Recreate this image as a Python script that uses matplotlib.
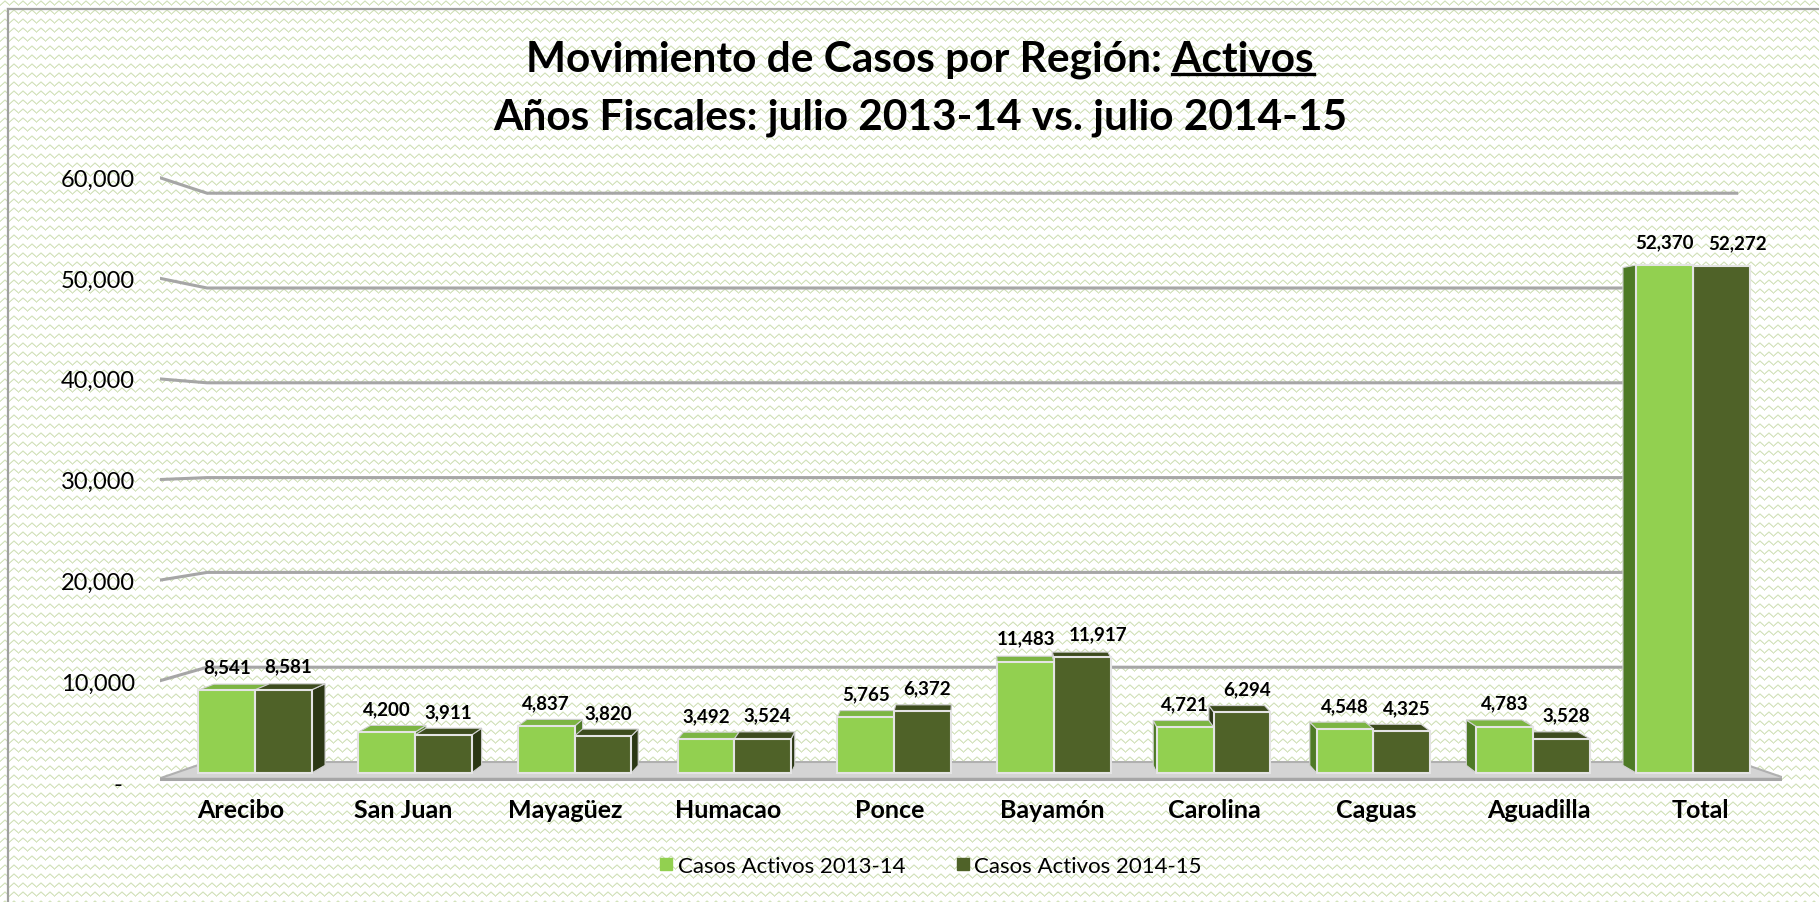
import numpy as np
import matplotlib
matplotlib.use("Agg")
import matplotlib.pyplot as plt
from matplotlib.lines import Line2D
from matplotlib.patches import Polygon

plt.rcParams['font.family'] = ['Lato', 'DejaVu Sans']

regions = ["Arecibo", "San Juan", "Mayagüez", "Humacao", "Ponce",
           "Bayamón", "Carolina", "Caguas", "Aguadilla", "Total"]
activos_2013_14 = [8541, 4200, 4837, 3492, 5765, 11483, 4721, 4548, 4783, 52370]
activos_2014_15 = [8581, 3911, 3820, 3524, 6372, 11917, 6294, 4325, 3528, 52272]
series_names = ["Casos Activos 2013-14", "Casos Activos 2014-15"]
y_ticks = [0, 10000, 20000, 30000, 40000, 50000, 60000]

light = {"front": "#92D050", "top": "#7CB543", "side": "#4E7A26"}
dark = {"front": "#4F6228", "top": "#3D4C1E", "side": "#2C3815"}

W, H = 1819, 903
fig = plt.figure(figsize=(W / 100, H / 100), dpi=100, facecolor="white")

# zigzag background texture
yy, xx = np.mgrid[0:H, 0:W]
tri = np.abs((xx % 9) / 9.0 * 2 - 1)
dist = np.abs((yy % 9) - (1.5 + 4.0 * tri))
a = np.clip(1.3 - dist, 0, 1)[..., None]
green = np.array([0.83, 0.89, 0.74])
tex = (1 - a) * np.ones(3) + a * green
fig.figimage(tex, 0, 0, zorder=-10)

# frame (only top and left visible)
fig.add_artist(Line2D([8 / W, 8 / W], [0, 1 - 10 / H], color="#A0A0A0", lw=1.6))
fig.add_artist(Line2D([8 / W, 1], [1 - 10 / H, 1 - 10 / H], color="#A0A0A0", lw=1.6))

# axes: value 0 at 774px from top, 0.0097 px per unit
Y0, Y1 = -1000, 62000
zero_px, px_per = 774, 0.0097
bot_px = zero_px + (0 - Y0) * px_per
top_px = zero_px - Y1 * px_per
ax = fig.add_axes([160 / W, (H - bot_px) / H, 1622 / W, (bot_px - top_px) / H])
ax.set_facecolor("none")
ax.set_xlim(-0.5, 9.5)
ax.set_ylim(Y0, Y1)
for s in ax.spines.values():
    s.set_visible(False)


def front(v):
    return -928 + 1.0392 * v


def back(v):
    return 1134 + 0.9773 * v


# floor
floor = Polygon([(-0.51, -600), (9.53, -600), (9.23, back(0)), (-0.21, back(0))],
                closed=True, facecolor="#D4D4D4", edgecolor="#B0B0B0", lw=1.5, zorder=1)
ax.add_patch(floor)
ax.plot([-0.51, 9.53], [-600, -600], color="#A6A6A6", lw=2.2, zorder=1.5)

# gridlines on back wall with slanted stubs
for v in y_ticks[1:]:
    ax.plot([-0.51, -0.21, 9.23], [front(v), back(v), back(v)],
            color="#A6A6A6", lw=2.2, zorder=1, solid_capstyle="butt")

ax.set_yticks([front(v) for v in y_ticks])
ax.set_yticklabels([f"{v:,}" if v else "-  " for v in y_ticks], fontsize=17)
ax.tick_params(axis="y", length=0, pad=18)

ax.set_xticks(range(len(regions)))
ax.set_xticklabels(regions, fontsize=18, fontweight="bold")
ax.tick_params(axis="x", length=0, pad=11)

# pseudo-3D bars
bw = 0.35
K = 0.02
vp_x = 4.52
eye = 39278


def draw_bar(xc, h, col, z):
    x0, x1 = xc - bw / 2, xc + bw / 2
    dy_top = K * (eye - h)
    dy_bot = K * eye
    edge = x1 if vp_x > x1 else x0
    dx = K * (vp_x - edge)
    side = Polygon([(edge, 0), (edge, h), (edge + dx, h + dy_top), (edge + dx, dy_bot)],
                   closed=True, facecolor=col["side"], edgecolor="#D0D0D0", lw=0.8, zorder=z)
    ax.add_patch(side)
    if dy_top > 0:
        top = Polygon([(x0, h), (x1, h), (x1 + K * (vp_x - x1), h + dy_top),
                       (x0 + K * (vp_x - x0), h + dy_top)],
                      closed=True, facecolor=col["top"], edgecolor="#D0D0D0", lw=0.8, zorder=z)
        ax.add_patch(top)
    ax.bar(xc, h, bw, color=col["front"], edgecolor="#E4E4E4", lw=1.5, zorder=z + 0.1)


label_pairs = []
for i in range(len(regions)):
    # front bars sit slightly nearer the viewer than the category labels
    pc = i * 0.985 + 0.086
    xl, xd = pc - bw / 2, pc + bw / 2
    if pc < vp_x:
        draw_bar(xl, activos_2013_14[i], light, 3)
        draw_bar(xd, activos_2014_15[i], dark, 4)
    else:
        draw_bar(xd, activos_2014_15[i], dark, 3)
        draw_bar(xl, activos_2013_14[i], light, 4)
    pair = []
    for xc, v in ((xl, activos_2013_14[i]), (xd, activos_2014_15[i])):
        pair.append(ax.annotate(f"{v:,}", (xc, v), xytext=(0, 17), textcoords="offset points",
                                ha="center", va="center", fontsize=13.5, fontweight="bold", zorder=6))
    label_pairs.append(pair)

# legend
handles = [Line2D([], [], marker="s", ls="none", ms=9, color=light["front"]),
           Line2D([], [], marker="s", ls="none", ms=9, color=dark["front"])]
fig.legend(handles, series_names, loc="center", bbox_to_anchor=(0.511, 36 / H), ncol=2,
           frameon=False, fontsize=16, handletextpad=0.1, columnspacing=2.2, handlelength=0.8)

# title with underlined "Activos"
line1 = "Movimiento de Casos por Región: Activos"
line2 = "Años Fiscales: julio 2013-14 vs. julio 2014-15"
t1 = fig.text(920 / W, 1 - 60 / H, line1, ha="center", va="center", fontsize=30.5, fontweight="bold")
fig.text(920 / W, 1 - 118 / H, line2, ha="center", va="center", fontsize=30.5, fontweight="bold")
fig.canvas.draw()
r = fig.canvas.get_renderer()
bb = t1.get_window_extent(r)
tmp = fig.text(0, 0, "Activos", fontsize=30.5, fontweight="bold")
wb = tmp.get_window_extent(r)
tmp.remove()
uy = bb.y0 + 4
fig.add_artist(Line2D([(bb.x1 - wb.width) / W, bb.x1 / W], [uy / H, uy / H], color="black", lw=2.4))

# nudge the second data label right when it collides with the first
for a1, a2 in label_pairs:
    b1, b2 = a1.get_window_extent(r), a2.get_window_extent(r)
    if abs(b1.y0 - b2.y0) < b1.height and b2.x0 < b1.x1 + 14:
        shift = (b1.x1 + 14 - b2.x0) * 72 / fig.dpi
        a2.set_position((shift, 17))

fig.savefig("out.png", dpi=100)
